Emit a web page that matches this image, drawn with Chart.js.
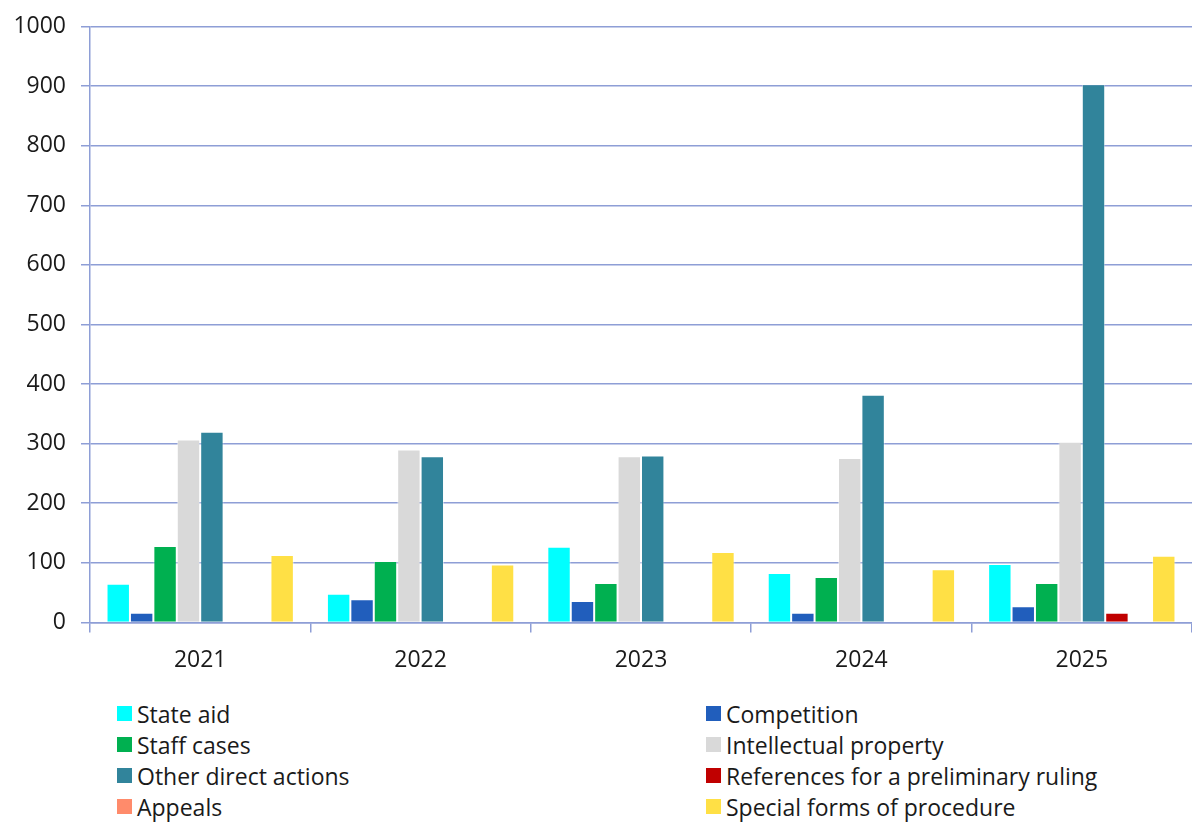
<!DOCTYPE html>
<html>
<head>
<meta charset="utf-8">
<script src="https://cdn.jsdelivr.net/npm/chart.js@4"></script>
<style>
  body { margin: 0; background: #fff; font-family: "Open Sans", sans-serif; }
  #wrap { position: relative; width: 1192px; height: 822px; }
  #box { position: absolute; left: 0; top: 0; width: 1192px; height: 690px; }
  #legend { position: absolute; left: 117px; top: 698px; width: 1000px;
            display: grid; grid-template-columns: 589px 420px; row-gap: 0; }
  .item { display: flex; align-items: center; height: 31px; font-size: 23px; color: #1a1a1a; }
  .sw { width: 15px; height: 15px; margin-right: 5px; flex: none; }
</style>
</head>
<body>
<div id="wrap">
  <div id="box"><canvas id="myChart"></canvas></div>
  <div id="legend"></div>
</div>
<script>
const years = ["2021", "2022", "2023", "2024", "2025"];
const yTicks = [0, 100, 200, 300, 400, 500, 600, 700, 800, 900, 1000];

const stateAid = [65, 48, 127, 83, 98];
const competition = [16, 39, 36, 16, 27];
const staffCases = [128, 103, 66, 76, 66];
const intellectualProperty = [307, 290, 279, 276, 303];
const otherDirect = [320, 279, 280, 382, 903];
const preliminaryRefs = [0, 0, 0, 1, 16];
const appeals = [1, 0, 0, 0, 0];
const specialForms = [113, 97, 118, 89, 112];

const seriesNames = ["State aid", "Competition", "Staff cases", "Intellectual property",
    "Other direct actions", "References for a preliminary ruling", "Appeals", "Special forms of procedure"];
const seriesValues = [stateAid, competition, staffCases, intellectualProperty,
    otherDirect, preliminaryRefs, appeals, specialForms];
const seriesColors = ["#00FFFF", "#215EBC", "#00B050", "#D9D9D9",
    "#31849B", "#C00000", "#FF8B6B", "#FFE045"];

const gridColor = "#8E9ED6";

function buildLegend() {
    // two columns: left = even index, right = odd index
    const legend = document.getElementById('legend');
    seriesNames.forEach((name, i) => {
        const item = document.createElement('div');
        item.className = 'item';
        item.innerHTML = `<span class="sw" style="background:${seriesColors[i]}"></span><span>${name}</span>`;
        legend.appendChild(item);
    });
}

function createChart() {
    const ctx = document.getElementById("myChart").getContext("2d");
    new Chart(ctx, {
        type: "bar",
        data: {
            labels: years,
            datasets: seriesNames.map((name, i) => ({
                label: name,
                data: seriesValues[i],
                backgroundColor: seriesColors[i],
                borderColor: "rgba(255,255,255,0.45)",
                borderWidth: 1,
                categoryPercentage: 0.85,
                barPercentage: 1.0,
            })),
        },
        options: {
            responsive: true,
            maintainAspectRatio: false,
            animation: false,
            layout: { padding: { top: 8, right: 0, left: 0, bottom: 2 } },
            plugins: {
                legend: { display: false },
                tooltip: { enabled: false },
            },
            scales: {
                x: {
                    grid: {
                        drawOnChartArea: false,
                        drawTicks: true,
                        tickLength: 10,
                        color: gridColor,
                        lineWidth: 1.5,
                    },
                    border: { color: gridColor, width: 1.5 },
                    ticks: {
                        color: "#1a1a1a",
                        font: { family: "'Open Sans'", size: 23 },
                        padding: 14,
                    },
                },
                y: {
                    min: 0,
                    max: 1000,
                    afterBuildTicks: axis => {
                        axis.ticks = yTicks.map(v => ({ value: v }));
                    },
                    afterFit: axis => { axis.width = 90; },
                    grid: {
                        color: gridColor,
                        lineWidth: 1.5,
                        tickLength: 9,
                    },
                    border: { color: gridColor, width: 1.5 },
                    ticks: {
                        color: "#1a1a1a",
                        font: { family: "'Open Sans'", size: 23, lineHeight: 1.0 },
                        padding: 15,
                        callback: v => String(v),
                    },
                },
            },
        },
    });
}

window.onload = () => {
    buildLegend();
    createChart();
};
</script>
</body>
</html>
